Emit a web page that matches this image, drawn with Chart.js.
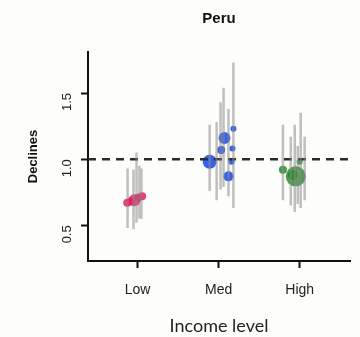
<!DOCTYPE html>
<html>
<head>
<meta charset="utf-8">
<script src="https://cdn.jsdelivr.net/npm/chart.js@4"></script>
<style>
  html, body { margin: 0; padding: 0; background: #fdfdfb; }
  #wrap { width: 360px; height: 337px; }
</style>
</head>
<body>
<div id="wrap"><canvas id="c" width="360" height="337"></canvas></div>
<script>
const groups = ['Low', 'Med', 'High'];
const refValue = 1.0;
const yTicks = [0.5, 1.0, 1.5];

// intervals: x position, low, high
const lowX = [0.878, 0.951, 0.988, 1.024, 1.049];
const lowLo = [0.48, 0.47, 0.52, 0.55, 0.55];
const lowHi = [0.93, 0.92, 1.05, 0.95, 0.93];
const medX = [1.890, 1.976, 2.024, 2.061, 2.122, 2.183];
const medLo = [0.76, 0.69, 0.77, 0.79, 0.72, 0.63];
const medHi = [1.26, 1.28, 1.43, 1.54, 1.38, 1.73];
const highX = [2.793, 2.890, 2.939, 2.976, 3.012, 3.061];
const highLo = [0.69, 0.65, 0.60, 0.66, 0.63, 0.69];
const highHi = [1.26, 1.17, 1.26, 1.10, 1.35, 1.17];

// point estimates: x position, value, weight
const lowPtX = [0.874, 0.915, 0.963, 1.012, 1.057];
const lowPtY = [0.67, 0.68, 0.69, 0.71, 0.72];
const lowPtW = [4, 4, 6, 4, 4];
const medPtX = [1.890, 2.073, 2.033, 2.122, 2.183, 2.171, 2.159];
const medPtY = [0.98, 1.16, 1.07, 0.87, 1.23, 1.08, 0.98];
const medPtW = [7, 6, 4, 5, 3, 3, 3];
const highPtX = [2.793, 2.915, 2.951, 3.000];
const highPtY = [0.92, 0.88, 0.87, 0.98];
const highPtW = [4, 5, 10, 3];

function segs(xs, lo, hi) {
    const out = [];
    xs.forEach((x, i) => {
        out.push({ x: x, y: lo[i] }, { x: x, y: hi[i] }, { x: x, y: null });
    });
    return out;
}
function pts(xs, ys) {
    return xs.map((x, i) => ({ x: x, y: ys[i] }));
}

const barStyle = {
    type: 'line',
    borderColor: 'rgba(140,140,140,0.55)',
    borderWidth: 2.5,
    pointRadius: 0,
    spanGaps: false,
    fill: false
};
function dotStyle(color, weights) {
    return {
        type: 'scatter',
        backgroundColor: color,
        borderWidth: 0,
        pointRadius: ctx => weights[ctx.dataIndex],
        pointHoverRadius: ctx => weights[ctx.dataIndex]
    };
}

const ctx = document.getElementById('c').getContext('2d');
new Chart(ctx, {
    data: {
        datasets: [
            Object.assign({ data: segs(lowX, lowLo, lowHi) }, barStyle),
            Object.assign({ data: segs(medX, medLo, medHi) }, barStyle),
            Object.assign({ data: segs(highX, highLo, highHi) }, barStyle),
            {
                type: 'line',
                data: [{ x: 0.39, y: refValue }, { x: 3.62, y: refValue }],
                borderColor: '#2b2b2b',
                borderWidth: 2.5,
                borderDash: [8, 6],
                pointRadius: 0
            },
            Object.assign({ data: pts(lowPtX, lowPtY) }, dotStyle('rgba(235,25,95,0.85)', lowPtW)),
            Object.assign({ data: pts(medPtX, medPtY) }, dotStyle('rgba(25,75,235,0.88)', medPtW)),
            Object.assign({ data: pts(highPtX, highPtY) }, dotStyle('rgba(30,135,30,0.82)', highPtW))
        ]
    },
    options: {
        responsive: false,
        animation: false,
        layout: { padding: { left: 22, right: 7, top: 0, bottom: 0 } },
        plugins: {
            legend: { display: false },
            tooltip: { enabled: false },
            title: {
                display: true,
                fullSize: false,
                text: 'Peru',
                color: '#111',
                font: { family: 'Liberation Sans', size: 15, weight: 'bold' },
                padding: { top: 10, bottom: 24 }
            }
        },
        scales: {
            x: {
                type: 'linear',
                min: 0.39,
                max: 3.62,
                afterBuildTicks: s => { s.ticks = [1, 2, 3].map(v => ({ value: v })); },
                afterFit: s => { s.height = 76; },
                ticks: {
                    callback: v => groups[v - 1],
                    color: '#222',
                    font: { family: 'Liberation Sans', size: 14 },
                    padding: 14,
                    maxRotation: 0
                },
                grid: { drawOnChartArea: false, drawTicks: true, tickLength: 7, tickWidth: 2, color: '#111' },
                border: { display: true, color: '#111', width: 2 },
                title: {
                    display: true,
                    text: 'Income level',
                    color: '#222',
                    font: { family: 'Lato', size: 18 },
                    padding: { top: 14, bottom: 0 }
                }
            },
            y: {
                type: 'linear',
                min: 0.23,
                max: 1.81,
                afterBuildTicks: s => { s.ticks = yTicks.map(v => ({ value: v })); },
                afterFit: s => { s.width = 66; },
                ticks: {
                    callback: v => v.toFixed(1),
                    color: '#222',
                    font: { family: 'Liberation Sans', size: 13 },
                    minRotation: 90,
                    maxRotation: 90,
                    padding: 14
                },
                grid: { drawOnChartArea: false, drawTicks: true, tickLength: 7, tickWidth: 2, color: '#111' },
                border: { display: true, color: '#111', width: 2 },
                title: {
                    display: true,
                    text: 'Declines',
                    color: '#111',
                    font: { family: 'Liberation Sans', size: 13, weight: 'bold' },
                    padding: { bottom: 6 }
                }
            }
        }
    }
});
</script>
</body>
</html>
